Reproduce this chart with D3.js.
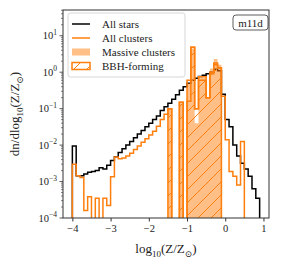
<!DOCTYPE html>
<html>
<head>
<meta charset="utf-8">
<script src="https://d3js.org/d3.v7.min.js"></script>
<style>
body{margin:0;background:#fff}
svg{display:block}
svg text{font-family:"Liberation Serif","DejaVu Serif",serif}
</style>
</head>
<body>
<svg id="chart" width="282" height="267"></svg>
<script>
// histogram bins of 0.1 dex starting at log10(Z/Zsun) = -4
var binStart = -4.0, binWidth = 0.1;
var allStars = [9.5e-3,1.45e-3,1.45e-3,1.6e-3,1.8e-3,1.9e-3,2.0e-3,2.4e-3,2.2e-3,2.8e-3,
  3.8e-3,4.8e-3,6.3e-3,7.9e-3,1.0e-2,1.26e-2,1.6e-2,2.0e-2,2.5e-2,3.2e-2,
  4.0e-2,5.0e-2,6.3e-2,8.9e-2,0.112,0.14,0.18,0.24,0.32,0.40,
  0.50,0.60,0.68,0.76,0.83,0.91,1.0,1.2,1.1,0.25,
  5.0e-2,3.2e-2,1.0e-2,5.0e-3,3.2e-3,2.2e-3,1.4e-3,6.3e-4,3.5e-4,0];
var allClusters = [3.0e-3,1.45e-3,1.3e-3,1.6e-4,3.8e-4,0,3.5e-4,0,3.5e-4,2.2e-4,
  1.35e-3,4.7e-3,4.2e-3,4.4e-3,5.0e-3,6.0e-3,7.6e-3,9.5e-3,1.2e-2,1.5e-2,
  1.9e-2,2.4e-2,3.3e-2,5.0e-2,7.0e-2,0.1,0,0,0.15,0,
  0.6,4.8,0.1,0.75,0.75,0.2,0.9,1.8,1.3,0.22,
  1.4e-2,1.9e-3,1.4e-3,8.0e-4,1.25e-2,0,0,0,0,0];
var massiveStart = -1.5;
var massive = [0.1,0,0,0.14,0,0.5,4.5,0.04,0.7,0.7,0.2,1.26,2.3,1.6];
var bbhStart = -1.5;
var bbh = [0.1,0,0,0.15,0,0.16,4.8,0.1,0.6,0.6,0.2,1.0,1.6,1.3];
var xTicks = [-4,-3,-2,-1,0,1];
var yTicks = [-4,-3,-2,-1,0,1];
var legendLabels = ["All stars","All clusters","Massive clusters","BBH-forming"];
var tagLabel = "m11d";

var orange = "#ff7f0e", light = "#ffbf86";
var L = 63, R = 269, T = 10, B = 218;
var svg = d3.select("#chart");
var x = d3.scaleLinear().domain([-4.245, 1.145]).range([L, R]);
var y = d3.scaleLog().domain([1e-4, Math.pow(10, 1.706)]).range([B, T]);

svg.append("defs").append("clipPath").attr("id","clip")
  .append("rect").attr("x",L).attr("y",T).attr("width",R-L).attr("height",B-T);
var pat = svg.select("defs").append("pattern").attr("id","hatch")
  .attr("patternUnits","userSpaceOnUse").attr("width",13).attr("height",13);
pat.append("path").attr("d","M-1,14L14,-1M-2,2L2,-2M11,15L15,11")
  .attr("stroke",orange).attr("stroke-width",1);

function yv(v){ return v > 0 ? y(v) : B + 5; }
function stepPath(vals, start, close){
  var p = "M" + x(start) + "," + (B + 5);
  vals.forEach(function(v,i){
    var x0 = x(start + i*binWidth), x1 = x(start + (i+1)*binWidth);
    p += "L" + x0 + "," + yv(v) + "L" + x1 + "," + yv(v);
  });
  p += "L" + x(start + vals.length*binWidth) + "," + (B + 5);
  return close ? p + "Z" : p;
}

var g = svg.append("g").attr("clip-path","url(#clip)");
g.append("path").attr("d", stepPath(allStars, binStart))
  .attr("fill","none").attr("stroke","#000").attr("stroke-width",1.5);
g.append("path").attr("d", stepPath(massive, massiveStart, true))
  .attr("fill",orange).attr("fill-opacity",0.5).attr("stroke","none");
g.append("path").attr("d", stepPath(bbh, bbhStart, true))
  .attr("fill","url(#hatch)").attr("stroke",orange).attr("stroke-width",1.5);
g.append("path").attr("d", stepPath(allClusters, binStart))
  .attr("fill","none").attr("stroke",orange).attr("stroke-width",1.5);

// frame
svg.append("rect").attr("x",L).attr("y",T).attr("width",R-L).attr("height",B-T)
  .attr("fill","none").attr("stroke","#333").attr("stroke-width",1);

// x axis
var xa = svg.append("g").attr("transform","translate(0,"+B+")")
  .call(d3.axisBottom(x).tickValues(xTicks).tickSize(3.5).tickPadding(3)
    .tickFormat(function(d){ return d < 0 ? "\u2212" + (-d) : d; }));
xa.attr("font-family",null);
xa.select(".domain").remove();
xa.selectAll("text").attr("font-size",10.5).attr("fill","#222");
xa.selectAll("line").attr("stroke","#333");

// y axis, major + minor log ticks
var ya = svg.append("g").attr("transform","translate("+L+",0)");
var minor = [];
for (var e = -4; e <= 1; e++) for (var k = 2; k <= 9; k++) {
  var v = k*Math.pow(10,e); if (v < y.domain()[1]) minor.push(v);
}
ya.selectAll(".mn").data(minor).enter().append("line")
  .attr("x1",-2).attr("x2",0).attr("y1",function(d){return y(d);}).attr("y2",function(d){return y(d);})
  .attr("stroke","#333").attr("stroke-width",0.6);
ya.selectAll(".mj").data(yTicks).enter().append("line")
  .attr("x1",-3.5).attr("x2",0).attr("y1",function(d){return y(Math.pow(10,d));})
  .attr("y2",function(d){return y(Math.pow(10,d));}).attr("stroke","#333").attr("stroke-width",0.8);
var yt = ya.selectAll(".lb").data(yTicks).enter().append("text")
  .attr("x",-6).attr("y",function(d){return y(Math.pow(10,d)) + 3.5;})
  .attr("text-anchor","end").attr("font-size",10.5).attr("fill","#222");
yt.append("tspan").text("10");
yt.append("tspan").attr("dy",-4.5).attr("font-size",7.5)
  .text(function(d){ return d < 0 ? "\u2212" + (-d) : d; });

// axis titles
var xl = svg.append("text").attr("x",(L+R)/2).attr("y",253).attr("text-anchor","middle")
  .attr("font-size",13).attr("fill","#222");
xl.append("tspan").text("log");
xl.append("tspan").attr("dy",3.5).attr("font-size",9).text("10");
xl.append("tspan").attr("dy",-3.5).text("(Z/Z");
xl.append("tspan").attr("dy",3.5).attr("font-size",9).text("\u2299");
xl.append("tspan").attr("dy",-3.5).text(")");

var yl = svg.append("text").attr("transform","translate(19,"+((T+B)/2)+") rotate(-90)")
  .attr("text-anchor","middle").attr("font-size",13).attr("fill","#222");
yl.append("tspan").text("dn/dlog");
yl.append("tspan").attr("dy",3.5).attr("font-size",9).text("10");
yl.append("tspan").attr("dy",-3.5).text("(Z/Z");
yl.append("tspan").attr("dy",3.5).attr("font-size",9).text("\u2299");
yl.append("tspan").attr("dy",-3.5).text(")");

// legend
var lg = svg.append("g");
lg.append("rect").attr("x",68).attr("y",13).attr("width",117).attr("height",64).attr("rx",2.5)
  .attr("fill","#fff").attr("fill-opacity",0.8).attr("stroke","#ccc").attr("stroke-width",0.8);
legendLabels.forEach(function(t,i){
  var cy = 24 + i*14;
  if (i < 2) lg.append("line").attr("x1",72).attr("x2",90).attr("y1",cy).attr("y2",cy)
    .attr("stroke", i ? orange : "#000").attr("stroke-width",1.5);
  else lg.append("rect").attr("x",72).attr("y",cy-3.5).attr("width",18).attr("height",7)
    .attr("fill", i == 2 ? light : "url(#hatch)")
    .attr("stroke", i == 3 ? orange : "none").attr("stroke-width",1.5);
  lg.append("text").attr("x",102).attr("y",cy+3.5).attr("font-size",11).attr("fill","#222").text(t);
});

// run tag
svg.append("rect").attr("x",233).attr("y",15).attr("width",35).attr("height",15).attr("rx",3)
  .attr("fill","#fff").attr("stroke","#333").attr("stroke-width",0.8);
svg.append("text").attr("x",250.5).attr("y",26.5).attr("text-anchor","middle")
  .attr("font-size",11).attr("fill","#222").text(tagLabel);
</script>
</body>
</html>
